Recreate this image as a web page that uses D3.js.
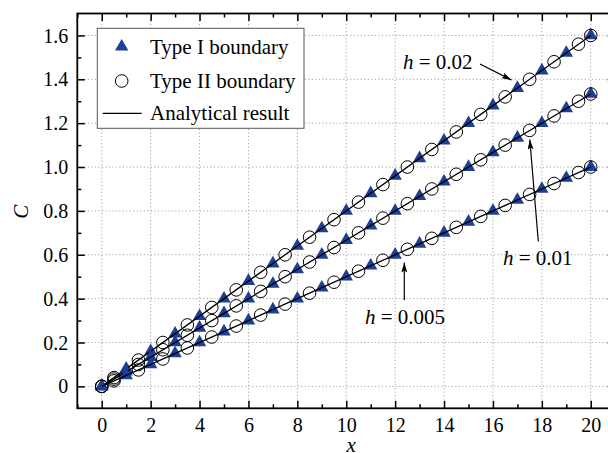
<!DOCTYPE html>
<html>
<head>
<meta charset="utf-8">
<script src="https://cdn.jsdelivr.net/npm/d3@7"></script>
<style>
  body { margin: 0; background: #fff; }
  svg { display: block; font-family: "Liberation Serif", "Times New Roman", serif; }
</style>
</head>
<body>
<div id="chart"></div>
<script>
// sample positions
const triX = [0, 1, 2, 3, 4, 5, 6, 7, 8, 9, 10, 11, 12, 13, 14, 15, 16, 17, 18, 19, 20];
const circX = [0, 0.5, 1.5, 2.5, 3.5, 4.5, 5.5, 6.5, 7.5, 8.5, 9.5, 10.5, 11.5, 12.5, 13.5, 14.5, 15.5, 16.5, 17.5, 18.5, 19.5, 20];

// h = 0.02
const h002Tri = [0, 0.08, 0.16, 0.24, 0.32, 0.40, 0.48, 0.56, 0.64, 0.72, 0.80, 0.88, 0.96, 1.04, 1.12, 1.20, 1.28, 1.36, 1.44, 1.52, 1.60];
const h002Circ = [0, 0.04, 0.12, 0.20, 0.28, 0.36, 0.44, 0.52, 0.60, 0.68, 0.76, 0.84, 0.92, 1.00, 1.08, 1.16, 1.24, 1.32, 1.40, 1.48, 1.56, 1.60];
// h = 0.01
const h001Tri = [0, 0.067, 0.133, 0.200, 0.267, 0.333, 0.400, 0.467, 0.533, 0.600, 0.667, 0.733, 0.800, 0.867, 0.933, 1.000, 1.067, 1.133, 1.200, 1.267, 1.333];
const h001Circ = [0, 0.033, 0.100, 0.167, 0.233, 0.300, 0.367, 0.433, 0.500, 0.567, 0.633, 0.700, 0.767, 0.833, 0.900, 0.967, 1.033, 1.100, 1.167, 1.233, 1.300, 1.333];
// h = 0.005
const h0005Tri = [0, 0.05, 0.10, 0.15, 0.20, 0.25, 0.30, 0.35, 0.40, 0.45, 0.50, 0.55, 0.60, 0.65, 0.70, 0.75, 0.80, 0.85, 0.90, 0.95, 1.00];
const h0005Circ = [0, 0.025, 0.075, 0.125, 0.175, 0.225, 0.275, 0.325, 0.375, 0.425, 0.475, 0.525, 0.575, 0.625, 0.675, 0.725, 0.775, 0.825, 0.875, 0.925, 0.975, 1.00];

// analytical result (straight lines)
const lineX = [0, 20];
const lineH002 = [0, 1.6];
const lineH001 = [0, 1.333];
const lineH0005 = [0, 1.0];

const xTicks = [0, 2, 4, 6, 8, 10, 12, 14, 16, 18, 20];
const xMinor = [-1, 1, 3, 5, 7, 9, 11, 13, 15, 17, 19];
const yTicks = [0, 0.2, 0.4, 0.6, 0.8, 1.0, 1.2, 1.4, 1.6];
const yMinor = [0.1, 0.3, 0.5, 0.7, 0.9, 1.1, 1.3, 1.5];
const yTickLabels = ["0", "0.2", "0.4", "0.6", "0.8", "1.0", "1.2", "1.4", "1.6"];

const legendLabels = ["Type I boundary", "Type II boundary", "Analytical result"];

const width = 608, height = 453;
const blue = "#1f3f95";

const svg = d3.select("#chart").append("svg")
    .attr("width", width)
    .attr("height", height);

const x = d3.scaleLinear().domain([-1, 21]).range([77.3, 615.2]);
const y = d3.scaleLinear().domain([-0.1, 1.7]).range([408.3, 13.5]);

const pLeft = x(-1), pRight = x(21), pTop = y(1.7), pBottom = y(-0.1);

// grid
const grid = svg.append("g")
    .attr("stroke", "#a6a6a6")
    .attr("stroke-width", 1)
    .attr("stroke-dasharray", "1.2,2.3");
grid.selectAll(".gx").data(xTicks).join("line")
    .attr("x1", d => x(d)).attr("x2", d => x(d))
    .attr("y1", pTop).attr("y2", pBottom);
grid.selectAll(".gy").data(yTicks).join("line")
    .attr("x1", pLeft).attr("x2", pRight)
    .attr("y1", d => y(d)).attr("y2", d => y(d));

// axes with inward ticks
function styleAxis(g) {
    g.select(".domain").remove();
    g.selectAll(".tick line").attr("stroke", "#000").attr("stroke-width", 1.5);
}

svg.append("g")
    .attr("transform", `translate(0,${pBottom})`)
    .call(d3.axisBottom(x).tickValues(xTicks).tickSize(-7.5).tickPadding(0).tickFormat(d3.format("d")))
    .call(styleAxis)
    .call(g => g.selectAll("text").attr("y", 23.5).attr("dy", 0)
        .attr("fill", "#000").attr("font-size", 20).attr("font-family", "Liberation Serif"));
svg.append("g")
    .attr("transform", `translate(0,${pBottom})`)
    .call(d3.axisBottom(x).tickValues(xMinor).tickSize(-4).tickFormat(""))
    .call(styleAxis);
svg.append("g")
    .attr("transform", `translate(0,${pTop})`)
    .call(d3.axisTop(x).tickValues(xTicks).tickSize(-7.5).tickFormat(""))
    .call(styleAxis);
svg.append("g")
    .attr("transform", `translate(0,${pTop})`)
    .call(d3.axisTop(x).tickValues(xMinor).tickSize(-4).tickFormat(""))
    .call(styleAxis);

svg.append("g")
    .attr("transform", `translate(${pLeft},0)`)
    .call(d3.axisLeft(y).tickValues(yTicks).tickSize(-7.5).tickPadding(9)
        .tickFormat((d, i) => yTickLabels[i]))
    .call(styleAxis)
    .call(g => g.selectAll("text").attr("fill", "#000").attr("font-size", 20)
        .attr("font-family", "Liberation Serif").attr("dy", "0.33em"));
svg.append("g")
    .attr("transform", `translate(${pLeft},0)`)
    .call(d3.axisLeft(y).tickValues(yMinor).tickSize(-4).tickFormat(""))
    .call(styleAxis);
svg.append("g")
    .attr("transform", `translate(${pRight},0)`)
    .call(d3.axisRight(y).tickValues(yTicks).tickSize(-7.5).tickFormat(""))
    .call(styleAxis);
svg.append("g")
    .attr("transform", `translate(${pRight},0)`)
    .call(d3.axisRight(y).tickValues(yMinor).tickSize(-4).tickFormat(""))
    .call(styleAxis);

// frame
svg.append("rect")
    .attr("x", pLeft).attr("y", pTop)
    .attr("width", pRight - pLeft).attr("height", pBottom - pTop)
    .attr("fill", "none").attr("stroke", "#000").attr("stroke-width", 1.8);

// axis titles
svg.append("text")
    .attr("transform", `translate(28,211.7) rotate(-90)`)
    .attr("text-anchor", "middle")
    .attr("font-size", 21).attr("font-style", "italic")
    .text("C");
svg.append("text")
    .attr("x", x(10.2)).attr("y", 452)
    .attr("text-anchor", "middle")
    .attr("font-size", 21).attr("font-style", "italic")
    .text("x");

// series
const series = [
    { tri: h002Tri, circ: h002Circ, line: lineH002 },
    { tri: h001Tri, circ: h001Circ, line: lineH001 },
    { tri: h0005Tri, circ: h0005Circ, line: lineH0005 }
];

const triangle = d3.symbol().type(d3.symbolTriangle).size(78);
const lineGen = d3.line().x(d => x(d[0])).y(d => y(d[1]));

const plot = svg.append("g");
series.forEach(s => {
    plot.append("g").selectAll("path")
        .data(triX.map((xv, i) => [xv, s.tri[i]]))
        .join("path")
        .attr("d", triangle)
        .attr("transform", d => `translate(${x(d[0])},${y(d[1])})`)
        .attr("fill", blue);
    plot.append("g").selectAll("circle")
        .data(circX.map((xv, i) => [xv, s.circ[i]]))
        .join("circle")
        .attr("cx", d => x(d[0])).attr("cy", d => y(d[1]))
        .attr("r", 6.3)
        .attr("fill", "none").attr("stroke", "#000").attr("stroke-width", 1);
    plot.append("path")
        .datum(lineX.map((xv, i) => [xv, s.line[i]]))
        .attr("d", lineGen)
        .attr("fill", "none").attr("stroke", "#000").attr("stroke-width", 1.3);
});

// arrows
svg.append("defs").append("marker")
    .attr("id", "arrow")
    .attr("viewBox", "0 0 10 6")
    .attr("refX", 10).attr("refY", 3)
    .attr("markerWidth", 10).attr("markerHeight", 6)
    .attr("markerUnits", "userSpaceOnUse")
    .attr("orient", "auto")
    .append("path")
    .attr("d", "M0,0 L10,3 L0,6 L2,3 Z")
    .attr("fill", "#000");

const notes = [
    { label: "0.02", tx: 403, ty: 69, from: [480, 64], to: [511.5, 80] },
    { label: "0.01", tx: 503, ty: 265, from: [538.3, 241.5], to: [529.8, 139.5] },
    { label: "0.005", tx: 365, ty: 324, from: [404.3, 300], to: [404.3, 262.5] }
];
notes.forEach(n => {
    svg.append("line")
        .attr("x1", n.from[0]).attr("y1", n.from[1])
        .attr("x2", n.to[0]).attr("y2", n.to[1])
        .attr("stroke", "#000").attr("stroke-width", 1.2)
        .attr("marker-end", "url(#arrow)");
    const t = svg.append("text")
        .attr("x", n.tx).attr("y", n.ty)
        .attr("font-size", 21);
    t.append("tspan").attr("font-style", "italic").text("h");
    t.append("tspan").text(" = " + n.label);
});

// legend
const lg = svg.append("g");
lg.append("rect")
    .attr("x", 97.3).attr("y", 28.3)
    .attr("width", 206.7).attr("height", 100)
    .attr("fill", "#fff").attr("stroke", "#555").attr("stroke-width", 1);
const rowY = [46.7, 81, 113.3];
lg.append("path")
    .attr("d", triangle)
    .attr("transform", `translate(121.7,${rowY[0]})`)
    .attr("fill", blue);
lg.append("circle")
    .attr("cx", 121.7).attr("cy", rowY[1]).attr("r", 6.3)
    .attr("fill", "none").attr("stroke", "#000").attr("stroke-width", 1);
lg.append("line")
    .attr("x1", 102.7).attr("x2", 141.7)
    .attr("y1", rowY[2]).attr("y2", rowY[2])
    .attr("stroke", "#000").attr("stroke-width", 1.3);
lg.selectAll("text.lab").data(legendLabels).join("text")
    .attr("x", 150).attr("y", (d, i) => rowY[i] + 7)
    .attr("font-size", 21)
    .text(d => d);
</script>
</body>
</html>
